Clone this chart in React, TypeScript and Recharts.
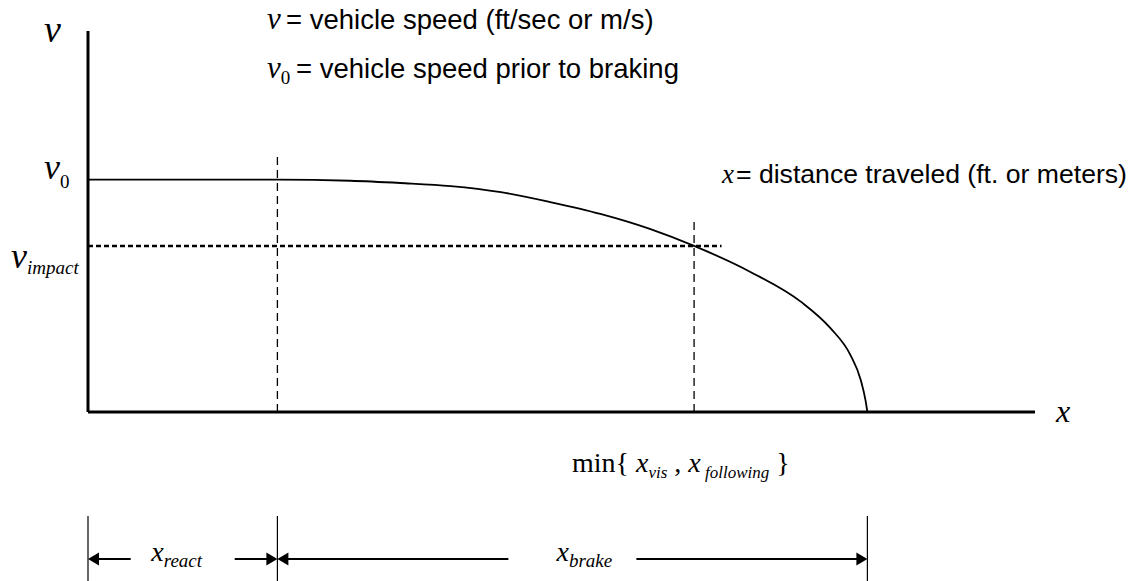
import { LineChart, Line, XAxis, YAxis, ReferenceLine, Customized } from 'recharts';

// distance travelled (x) vs vehicle speed (v), in arbitrary units
const distance = [0, 20, 27.7, 33, 38.3, 43.6, 48.8, 54.1, 59.4, 64, 70, 75.3, 78.4, 80.5, 81.6, 82.1, 82.3];
const speed = [61, 61, 60.7, 60.1, 59.3, 57.7, 55.1, 52, 48, 43.6, 36.7, 28.9, 22, 15, 8.4, 3.1, 0];

const v0 = 61;
const vImpact = 43.6;
const xReact = 20;
const xVis = 64;
const xStop = 82.3;
const impactLineEnd = 66.9;
const reactGuideTop = 66.9;
const visGuideTop = 50.4;

const spans = [
  { from: 0, to: xReact, sub: 'react' },
  { from: xReact, to: xStop, sub: 'brake' },
];
const spanStops = [0, xReact, xStop];

const data = distance.map((d, i) => ({ d, v: speed[i] }));

const SERIF = 'Liberation Serif, Times New Roman, serif';
const SANS = 'Liberation Sans, Arial, sans-serif';

const DIM_Y = -38.6;
const BAR_TOP = -27.3;
const BAR_BOTTOM = -47;

const arrowPath = (xTip: number, y: number, dir: number) => {
  const len = 11;
  const half = 6.5;
  return `M${xTip},${y} L${xTip - dir * len},${y - half} L${xTip - dir * len},${y + half} Z`;
};

const SpeedTick = (props: any) => {
  const { y, payload } = props;
  if (payload.value === v0) {
    return (
      <text x={44} y={y - 1} fontFamily={SERIF} fontSize={36} fill="#000">
        <tspan fontStyle="italic">v</tspan>
        <tspan fontSize={19} dy={9}>0</tspan>
      </text>
    );
  }
  return (
    <text x={11} y={y + 22} fontFamily={SERIF} fontSize={36} fill="#000">
      <tspan fontStyle="italic">v</tspan>
      <tspan fontSize={19} fontStyle="italic" dy={6}>impact</tspan>
    </text>
  );
};

const makeSpanShape = (sub: string) => (props: any) => {
  const { x1, x2, y1 } = props;
  const gap = sub === 'react' ? 52 : 64;
  const shift = sub === 'react' ? -6 : 12;
  const c = (x1 + x2) / 2;
  return (
    <g>
      <line x1={c - gap} y1={y1} x2={x1 + 8} y2={y1} stroke="#000" strokeWidth={2} />
      <path d={arrowPath(x1, y1, -1)} fill="#000" />
      <line x1={c + gap} y1={y1} x2={x2 - 8} y2={y1} stroke="#000" strokeWidth={2} />
      <path d={arrowPath(x2, y1, 1)} fill="#000" />
      <text x={c + shift} y={y1 + 2} textAnchor="middle" fontFamily={SERIF} fontSize={28} fill="#000">
        <tspan fontStyle="italic">x</tspan>
        <tspan fontSize={19} fontStyle="italic" dy={6}>{sub}</tspan>
      </text>
    </g>
  );
};

const Annotations = () => (
  <g fill="#000">
    <text x={44} y={42} fontFamily={SERIF} fontSize={38} fontStyle="italic">v</text>
    <text x={1056} y={422} fontFamily={SERIF} fontSize={32} fontStyle="italic">x</text>

    <text x={267} y={29} fontFamily={SERIF} fontSize={31} fontStyle="italic">v</text>
    <text x={286} y={29} fontFamily={SANS} fontSize={27.5}>= vehicle speed (ft/sec or m/s)</text>

    <text x={267} y={78} fontFamily={SERIF} fontSize={31}>
      <tspan fontStyle="italic">v</tspan>
      <tspan fontSize={19} dy={6}>0</tspan>
    </text>
    <text x={296} y={78} fontFamily={SANS} fontSize={27.5}>= vehicle speed prior to braking</text>

    <text x={722} y={183} fontFamily={SERIF} fontSize={27} fontStyle="italic">x</text>
    <text x={736} y={183} fontFamily={SANS} fontSize={26.6}>= distance traveled (ft. or meters)</text>

    <text x={572} y={472} fontFamily={SERIF} fontSize={28}>
      min{'{ '}
      <tspan fontStyle="italic">x</tspan>
      <tspan fontSize={17} fontStyle="italic" dy={6}>vis</tspan>
      <tspan dy={-6}>{' , '}</tspan>
      <tspan fontStyle="italic">x</tspan>
      <tspan fontSize={17} fontStyle="italic" dy={6}>{' following'}</tspan>
      <tspan dy={-6}>{'   }'}</tspan>
    </text>
  </g>
);

export default function App() {
  return (
    <div style={{ position: 'absolute', left: 0, top: 0, background: '#fff' }}>
      <LineChart
        width={1145}
        height={581}
        data={data}
        margin={{ top: 31, right: 110, left: 68, bottom: 149 }}
      >
        <XAxis
          dataKey="d"
          type="number"
          domain={[0, 100]}
          allowDataOverflow
          height={20}
          tick={false}
          tickLine={false}
          axisLine={{ stroke: '#000', strokeWidth: 3 }}
        />
        <YAxis
          type="number"
          domain={[0, 100]}
          allowDataOverflow
          width={20}
          ticks={[vImpact, v0]}
          tick={<SpeedTick />}
          tickLine={false}
          axisLine={{ stroke: '#000', strokeWidth: 3 }}
        />
        <ReferenceLine
          segment={[{ x: xReact, y: 0 }, { x: xReact, y: reactGuideTop }]}
          stroke="#000"
          strokeWidth={1.3}
          strokeDasharray="8 5"
        />
        <ReferenceLine
          segment={[{ x: xVis, y: 0 }, { x: xVis, y: visGuideTop }]}
          stroke="#000"
          strokeWidth={1.3}
          strokeDasharray="8 5"
        />
        <ReferenceLine
          segment={[{ x: 0, y: vImpact }, { x: impactLineEnd, y: vImpact }]}
          stroke="#000"
          strokeWidth={2.5}
          strokeDasharray="5 3"
        />
        <Line
          dataKey="v"
          type="monotone"
          stroke="#000"
          strokeWidth={1.8}
          dot={false}
          activeDot={false}
          isAnimationActive={false}
        />
        {spanStops.map((s) => (
          <ReferenceLine
            key={`bar-${s}`}
            ifOverflow="visible"
            segment={[{ x: s, y: BAR_TOP }, { x: s, y: BAR_BOTTOM }]}
            stroke="#000"
            strokeWidth={1.2}
          />
        ))}
        {spans.map((s) => (
          <ReferenceLine
            key={s.sub}
            ifOverflow="visible"
            segment={[{ x: s.from, y: DIM_Y }, { x: s.to, y: DIM_Y }]}
            shape={makeSpanShape(s.sub)}
          />
        ))}
        <Customized component={Annotations} />
      </LineChart>
    </div>
  );
}
